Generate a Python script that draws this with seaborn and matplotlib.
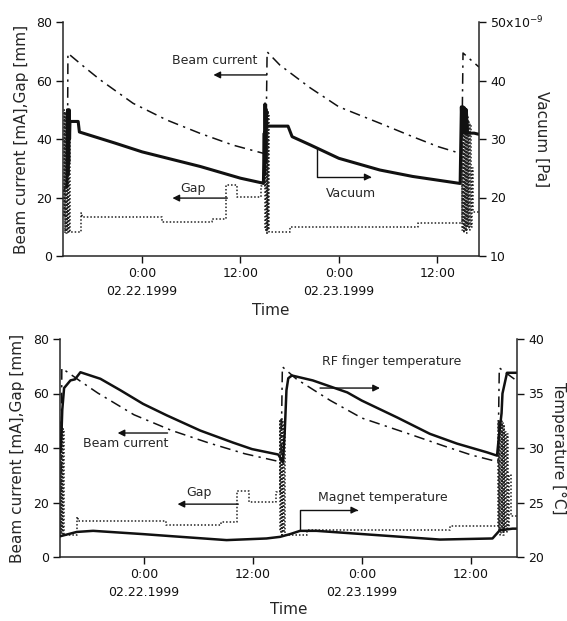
import pandas as pd
import seaborn as sns
import matplotlib.pyplot as plt

# time axis: hours counted from 0:00 on 02.22.1999
# beam current [mA] (dash-dot, same in both panels)
beam_t = [-9.6, -9.12, -9.05, -7.0, -5.1, -1.1, 3.0, 7.1, 11.1, 14.8, 15.1,
          15.25, 16.8, 20.5, 24.0, 29.0, 33.0, 36.1, 38.8, 39.0, 39.15, 40.4, 41.1]
beam_ma = [22, 25, 69.3, 64.5, 60.2, 52.2, 46.5, 41.9, 37.9, 35.1, 35.0,
           69.8, 65.3, 57.5, 51.0, 45.4, 40.8, 37.4, 35.1, 35.0, 69.4, 66.3, 64.6]

# gap [mm] (dotted, step changes, fast open/close while injecting)
gap_t = [-9.6, -9.52, -9.45, -9.38, -9.3, -9.22, -9.15, -9.08, -9.0, -8.92, -8.85,
         -7.42, -7.32, 2.45, 8.5, 10.2, 11.6, 14.5, 14.95, 15.02, 15.1, 15.18,
         15.26, 15.34, 15.42, 15.5, 18.0, 33.7, 39.0, 39.08, 39.16, 39.24, 39.32,
         39.4, 39.48, 39.56, 39.64, 39.72, 39.8, 39.9, 40.0, 40.1, 40.2, 40.4, 41.1]
gap_mm = [14, 50, 8, 49, 8, 50, 9, 48, 8, 47, 8.2,
          14.7, 13.3, 11.6, 12.7, 24.3, 20.2, 24.0, 50, 9, 51, 8,
          50, 9, 49, 8.2, 10.0, 11.3, 50, 9, 50, 8, 49,
          9, 50, 8, 48, 10, 46, 9, 45, 10, 30, 15, 15]

# vacuum [x1e-9 Pa] (top panel, right axis)
vac_t = [-9.15, -9.1, -9.05, -9.0, -8.95, -8.9, -8.85, -8.8, -7.8, -7.65, -3.3,
         0.0, 7.1, 12.0, 14.6, 14.8, 14.9, 14.95, 15.0, 15.05, 15.1, 15.2, 15.6,
         17.8, 18.3, 20.5, 24.0, 29.0, 33.0, 38.8, 38.95, 39.05, 39.15, 39.25,
         39.35, 39.45, 39.55, 39.7, 40.5, 41.1]
vac_npa = [21.8, 35.0, 24.0, 34.5, 26.0, 35.0, 30.0, 33.0, 33.0, 31.2, 29.3,
           27.8, 25.3, 23.3, 22.5, 22.4, 31.0, 24.0, 36.0, 26.0, 35.0, 32.2, 32.2,
           32.2, 30.4, 29.0, 26.7, 24.7, 23.6, 22.4, 35.5, 31.0, 35.5, 31.0,
           35.3, 31.0, 35.0, 31.0, 31.0, 30.8]

# RF finger temperature [C] (bottom panel, right axis)
rf_t = [-9.25, -9.1, -9.0, -8.8, -8.1, -7.6, -7.0, -4.8, -2.6, -0.1, 2.5, 6.2,
        9.8, 11.9, 14.8, 15.3, 15.5, 15.7, 15.9, 16.3, 18.6, 22.4, 24.0, 27.9,
        31.5, 34.5, 37.8, 38.9, 39.1, 39.4, 39.5, 40.0, 40.5, 41.1]
rf_c = [29.6, 31.0, 33.5, 35.5, 36.2, 36.3, 36.95, 36.35, 35.3, 34.05, 33.0, 31.6,
        30.5, 29.9, 29.4, 28.7, 31.3, 35.3, 36.4, 36.65, 36.2, 35.1, 34.35, 32.8,
        31.3, 30.4, 29.6, 29.3, 31.0, 33.2, 35.0, 36.9, 36.9, 36.9]

# magnet temperature [C]
mag_t = [-9.25, -7.4, -5.6, -0.1, 3.2, 9.1, 13.5, 15.0, 16.1, 17.2, 19.0, 24.1,
         32.6, 38.4, 39.2, 40.6, 41.1]
mag_c = [21.9, 22.3, 22.4, 22.1, 21.9, 21.55, 21.7, 21.85, 22.1, 22.4, 22.4, 22.1,
         21.6, 21.7, 22.45, 22.6, 22.6]

tick_hours = [0, 12, 24, 36]
tick_labels = ["0:00\n02.22.1999", "12:00", "0:00\n02.23.1999", "12:00"]

beam_df = pd.DataFrame({"hours": beam_t, "value": beam_ma})
gap_df = pd.DataFrame({"hours": gap_t, "value": gap_mm})
vac_df = pd.DataFrame({"hours": vac_t, "value": vac_npa})
rf_df = pd.DataFrame({"hours": rf_t, "value": rf_c})
mag_df = pd.DataFrame({"hours": mag_t, "value": mag_c})

sns.set_style("ticks")
plt.rcParams['font.family'] = ['DejaVu Sans']
plt.rcParams['axes.linewidth'] = 1.1

beam_kw = dict(color='#111111', lw=1.1, linestyle=(0, (7, 3.5, 1.5, 3.5)))
gap_kw = dict(color='#222222', lw=1.1, linestyle=(0, (1, 1.3)), drawstyle='steps-post')
arrow_kw = dict(arrowstyle='-|>', color='#111111', lw=1.0, mutation_scale=10,
                shrinkA=0, shrinkB=0)
arrow_elbow = dict(arrow_kw, connectionstyle='angle,angleA=90,angleB=0,rad=0')

fig = plt.figure(figsize=(5.67, 6.21), dpi=100)
ax1 = fig.add_axes([63 / 567, 1 - 256 / 621, 416 / 567, 234 / 621])
ax2 = fig.add_axes([60 / 567, 1 - 557 / 621, 457 / 567, 218 / 621])
ax1r = ax1.twinx()
ax2r = ax2.twinx()

# top panel: beam current, gap, vacuum
sns.lineplot(data=beam_df, x="hours", y="value", ax=ax1, estimator=None, sort=False, **beam_kw)
sns.lineplot(data=gap_df, x="hours", y="value", ax=ax1, estimator=None, sort=False, **gap_kw)
sns.lineplot(data=vac_df, x="hours", y="value", ax=ax1r, estimator=None, sort=False,
             color='#111111', lw=2.2)

# bottom panel: beam current, gap, RF finger and magnet temperature
sns.lineplot(data=beam_df, x="hours", y="value", ax=ax2, estimator=None, sort=False, **beam_kw)
sns.lineplot(data=gap_df, x="hours", y="value", ax=ax2, estimator=None, sort=False, **gap_kw)
sns.lineplot(data=rf_df, x="hours", y="value", ax=ax2r, estimator=None, sort=False,
             color='#111111', lw=1.8)
sns.lineplot(data=mag_df, x="hours", y="value", ax=ax2r, estimator=None, sort=False,
             color='#111111', lw=1.8)

panels = [(ax1, ax1r, (-9.65, 41.1), (10, 50), [10, 20, 30, 40, 50],
           ["10", "20", "30", "40", "50x10$^{-9}$"], "Vacuum [Pa]", 1.151, -0.0986, -0.231),
          (ax2, ax2r, (-9.25, 41.1), (20, 40), [20, 25, 30, 35, 40],
           ["20", "25", "30", "35", "40"], "Temperature [\u00b0C]", 1.09, -0.094, -0.243)]

for ax, axr, xlim, rlim, rticks, rlabels, rname, rx, lx, ty in panels:
    ax.set_xlim(*xlim)
    ax.set_ylim(0, 80)
    ax.set_yticks([0, 20, 40, 60, 80])
    ax.set_xticks(tick_hours)
    ax.set_xticklabels(tick_labels, linespacing=1.45)
    axr.set_ylim(*rlim)
    axr.set_yticks(rticks)
    axr.set_yticklabels(rlabels)
    for a in (ax, axr):
        a.tick_params(direction='out', length=5, width=1, labelsize=9, pad=3, colors='#111111')
        a.spines['top'].set_visible(False)
    ax.spines['right'].set_visible(False)
    axr.spines['left'].set_visible(False)
    axr.spines['bottom'].set_visible(False)
    ax.set_xlabel("Time", fontsize=11, va='center')
    ax.xaxis.set_label_coords(0.5, ty)
    ax.set_ylabel("Beam current [mA],Gap [mm]", fontsize=11, va='center')
    ax.yaxis.set_label_coords(lx, 0.5)
    axr.set_ylabel(rname, fontsize=11, rotation=270, va='center')
    axr.yaxis.set_label_coords(rx, 0.5)

# top panel labels
ax1.text(8.8, 67, "Beam current", fontsize=9, ha='center', va='center')
ax1.annotate("", xy=(8.7, 61.9), xytext=(15.2, 61.9), arrowprops=arrow_kw)
ax1.text(6.2, 23.2, "Gap", fontsize=9, ha='center', va='center')
ax1.annotate("", xy=(3.7, 19.8), xytext=(10.4, 19.8), arrowprops=arrow_kw)
ax1.text(25.5, 21.5, "Vacuum", fontsize=9, ha='center', va='center')
ax1.annotate("", xy=(28.0, 27.0), xytext=(21.3, 36.9), arrowprops=arrow_elbow)

# bottom panel labels
ax2.text(27.3, 71.6, "RF finger temperature", fontsize=9, ha='center', va='center')
ax2.annotate("", xy=(26.0, 62.0), xytext=(19.4, 62.0), arrowprops=arrow_kw)
ax2.text(-2.0, 41.5, "Beam current", fontsize=9, ha='center', va='center')
ax2.annotate("", xy=(-2.9, 45.5), xytext=(2.6, 45.5), arrowprops=arrow_kw)
ax2.text(6.1, 23.5, "Gap", fontsize=9, ha='center', va='center')
ax2.annotate("", xy=(3.7, 19.4), xytext=(10.4, 19.4), arrowprops=arrow_kw)
ax2.text(26.3, 22.0, "Magnet temperature", fontsize=9, ha='center', va='center')
ax2.annotate("", xy=(23.6, 17.2), xytext=(17.2, 9.9), arrowprops=arrow_elbow)

fig.savefig("out.png", dpi=100)
plt.close(fig)
